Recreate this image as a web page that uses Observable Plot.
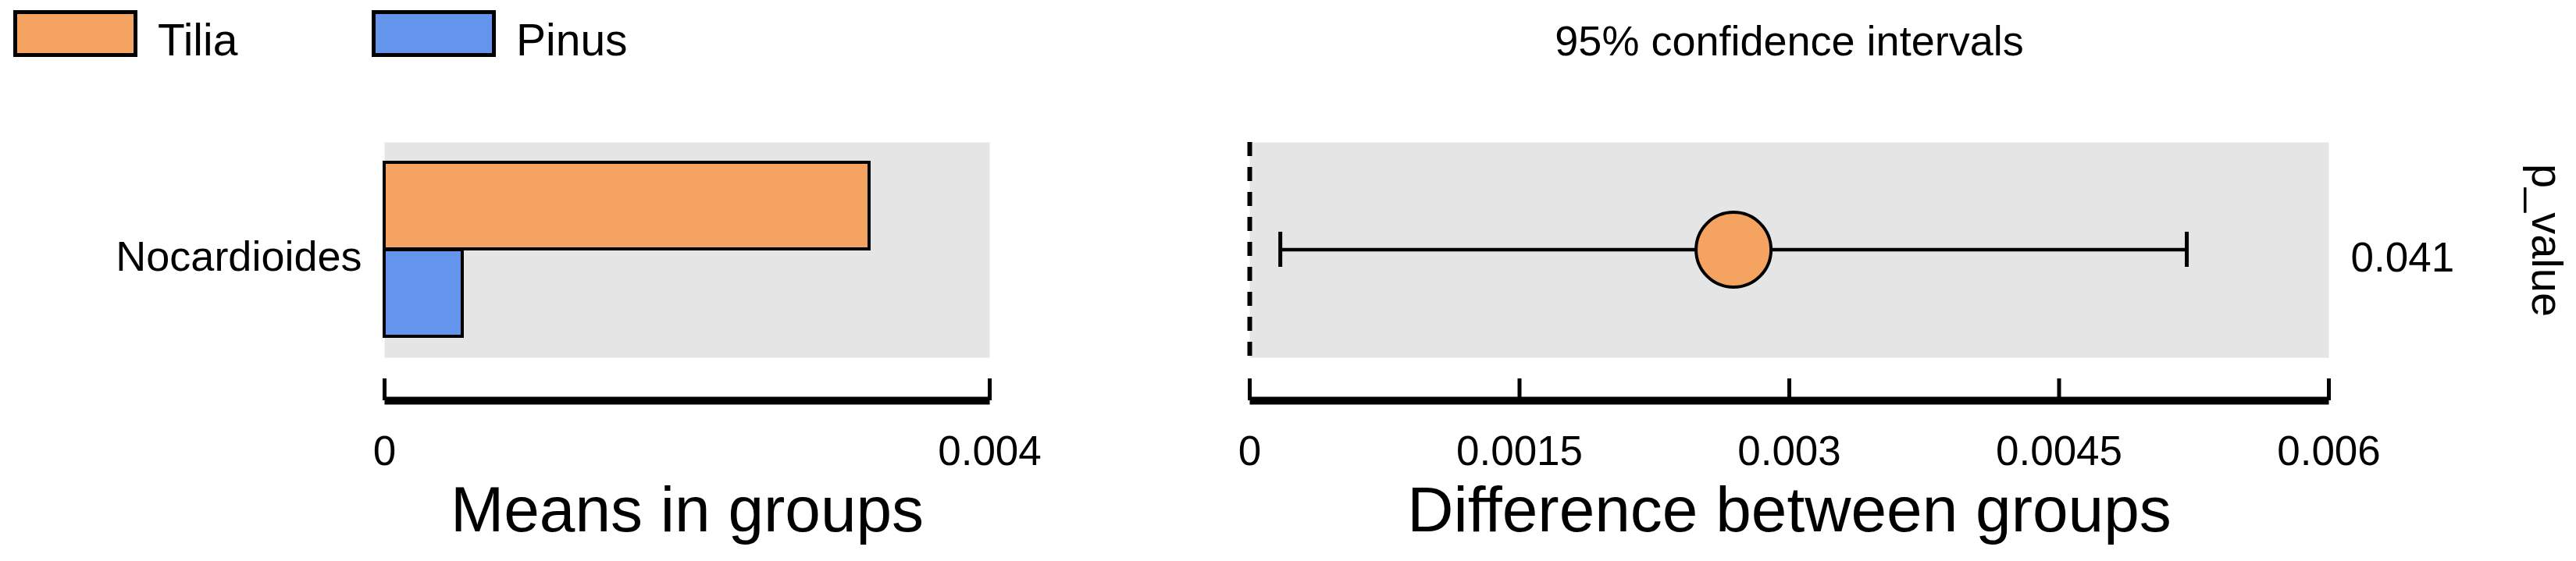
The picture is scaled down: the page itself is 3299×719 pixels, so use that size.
<!DOCTYPE html>
<html>
<head>
<meta charset="utf-8">
<script src="https://cdn.jsdelivr.net/npm/d3@7"></script>
<script src="https://cdn.jsdelivr.net/npm/@observablehq/plot@0.6"></script>
<style>
html, body { margin: 0; padding: 0; background: #fff; }
#wrap { position: relative; width: 3299px; height: 719px; overflow: hidden; font-family: "Liberation Sans", Arial, Helvetica, sans-serif; }
#wrap > svg { position: absolute; top: 0; }
</style>
</head>
<body>
<div id="wrap"></div>
<script>
// ---- data ----
const categories = ["Nocardioides"];
const groups = ["Tilia", "Pinus"];
const groupColors = ["#F4A460", "#6495ED"];
const meanTilia = [0.003205];
const meanPinus = [0.000516];
const diffEstimate = [0.00269];
const ciLower = [0.000170];
const ciUpper = [0.00521];
const pValues = ["0.041"];
const meanTicks = [0, 0.004];
const meanTickLabels = ["0", "0.004"];
const diffTicks = [0, 0.0015, 0.003, 0.0045, 0.006];
const diffTickLabels = ["0", "0.0015", "0.003", "0.0045", "0.006"];
const meanTitle = "Means in groups";
const diffTitle = "Difference between groups";
const ciTitle = "95% confidence intervals";
const pTitle = "p_value";

// ---- tables built from the arrays ----
const meanRows = categories.map((c, i) => ({category: c, tilia: meanTilia[i], pinus: meanPinus[i]}));
const diffRows = categories.map((c, i) => ({
  category: c, diff: diffEstimate[i], lower: ciLower[i], upper: ciUpper[i], p: pValues[i],
  winner: diffEstimate[i] >= 0 ? groups[0] : groups[1]
}));

// ---- layout / style ----
const FONT = '"Liberation Sans", Arial, Helvetica, sans-serif';
const H = 719, TOP = 182, BOTTOM = 206, GAP = 55;
const FRAME_H = H - TOP - BOTTOM;
const GRAY = "#e5e5e5";
const HALF_BAND = 112;
const style = {fontFamily: FONT, background: "transparent", overflow: "visible", color: "black"};

function axisMarks(ticks, labels, title) {
  return [
    Plot.frame({fill: "black", stroke: null, insetTop: FRAME_H - 5, insetBottom: -5}),
    Plot.ruleX(ticks, {x: d => d, stroke: "black", strokeWidth: 5, insetTop: FRAME_H - 28}),
    Plot.text(ticks, {x: d => d, text: (d, i) => labels[i], frameAnchor: "bottom", dy: 45, lineAnchor: "top", fontSize: 53, fill: "black"}),
    Plot.text([title], {text: d => d, frameAnchor: "bottom", dy: 167, lineAnchor: "bottom", fontSize: 82, fill: "black"})
  ];
}

const wrap = document.getElementById("wrap");

// ---- left panel: means in groups ----
const left = Plot.plot({
  width: 1450, height: H,
  marginLeft: 492, marginRight: 183, marginTop: TOP, marginBottom: BOTTOM,
  style,
  x: {domain: [meanTicks[0], meanTicks[meanTicks.length - 1]], axis: null},
  y: {domain: categories, axis: null, padding: 0.104, insetBottom: GAP},
  marks: [
    Plot.frame({fill: GRAY, stroke: null, insetBottom: GAP}),
    Plot.barX(meanRows, {x: "pinus", y: "category", fill: groupColors[1], stroke: "black", strokeWidth: 4, insetTop: HALF_BAND}),
    Plot.barX(meanRows, {x: "tilia", y: "category", fill: groupColors[0], stroke: "black", strokeWidth: 4, insetBottom: HALF_BAND}),
    Plot.text(categories, {y: d => d, text: d => d, frameAnchor: "left", dx: -29, dy: 10, textAnchor: "end", fontSize: 54, fill: "black"}),
    ...axisMarks(meanTicks, meanTickLabels, meanTitle)
  ]
});
left.style.left = "0px";
wrap.appendChild(left);

// ---- right panel: difference between groups ----
const right = Plot.plot({
  width: 1849, height: H,
  marginLeft: 150, marginRight: 317, marginTop: TOP, marginBottom: BOTTOM,
  style,
  x: {domain: [diffTicks[0], diffTicks[diffTicks.length - 1]], axis: null},
  y: {domain: categories, axis: null, padding: 0.104, insetBottom: GAP},
  color: {domain: groups, range: groupColors},
  marks: [
    Plot.frame({fill: GRAY, stroke: null, insetBottom: GAP}),
    Plot.ruleX([0], {x: d => d, stroke: "black", strokeWidth: 6, strokeDasharray: "18,14", insetBottom: GAP}),
    Plot.ruleY(diffRows, {x1: "lower", x2: "upper", y: "category", stroke: "black", strokeWidth: 4.5}),
    Plot.tickX(diffRows, {x: "lower", y: "category", stroke: "black", strokeWidth: 5, insetTop: 89, insetBottom: 89}),
    Plot.tickX(diffRows, {x: "upper", y: "category", stroke: "black", strokeWidth: 5, insetTop: 89, insetBottom: 89}),
    Plot.dot(diffRows, {x: "diff", y: "category", r: 48, fill: "winner", stroke: "black", strokeWidth: 4}),
    Plot.text(diffRows, {y: "category", text: "p", frameAnchor: "right", dx: 28, dy: 11, textAnchor: "start", fontSize: 53, fill: "black"}),
    Plot.text([pTitle], {text: d => d, frameAnchor: "right", dx: 278, dy: -40, rotate: 90, textAnchor: "middle", lineAnchor: "middle", fontSize: 56, fill: "black"}),
    Plot.text([ciTitle], {text: d => d, frameAnchor: "top", dy: -112, lineAnchor: "bottom", fontSize: 54, fill: "black"}),
    ...axisMarks(diffTicks, diffTickLabels, diffTitle)
  ]
});
right.style.left = "1450px";
wrap.appendChild(right);

// ---- legend ----
const LEG_X0 = 17, LEG_STEP = 459, BOX_W = 159, BOX_H = 60, BOX_Y = 13, BOX_SW = 5;
const leg = d3.create("svg")
  .attr("width", 1000).attr("height", 110)
  .style("left", "0px")
  .attr("font-family", FONT);
groups.forEach((g, i) => {
  const x0 = LEG_X0 + i * LEG_STEP;
  leg.append("rect")
    .attr("x", x0 + BOX_SW / 2).attr("y", BOX_Y + BOX_SW / 2)
    .attr("width", BOX_W - BOX_SW).attr("height", BOX_H - BOX_SW)
    .attr("fill", groupColors[i]).attr("stroke", "black").attr("stroke-width", BOX_SW);
  leg.append("text")
    .attr("x", x0 + BOX_W + 26).attr("y", 71)
    .attr("font-size", 57).attr("fill", "black")
    .text(g);
});
wrap.appendChild(leg.node());
</script>
</body>
</html>
